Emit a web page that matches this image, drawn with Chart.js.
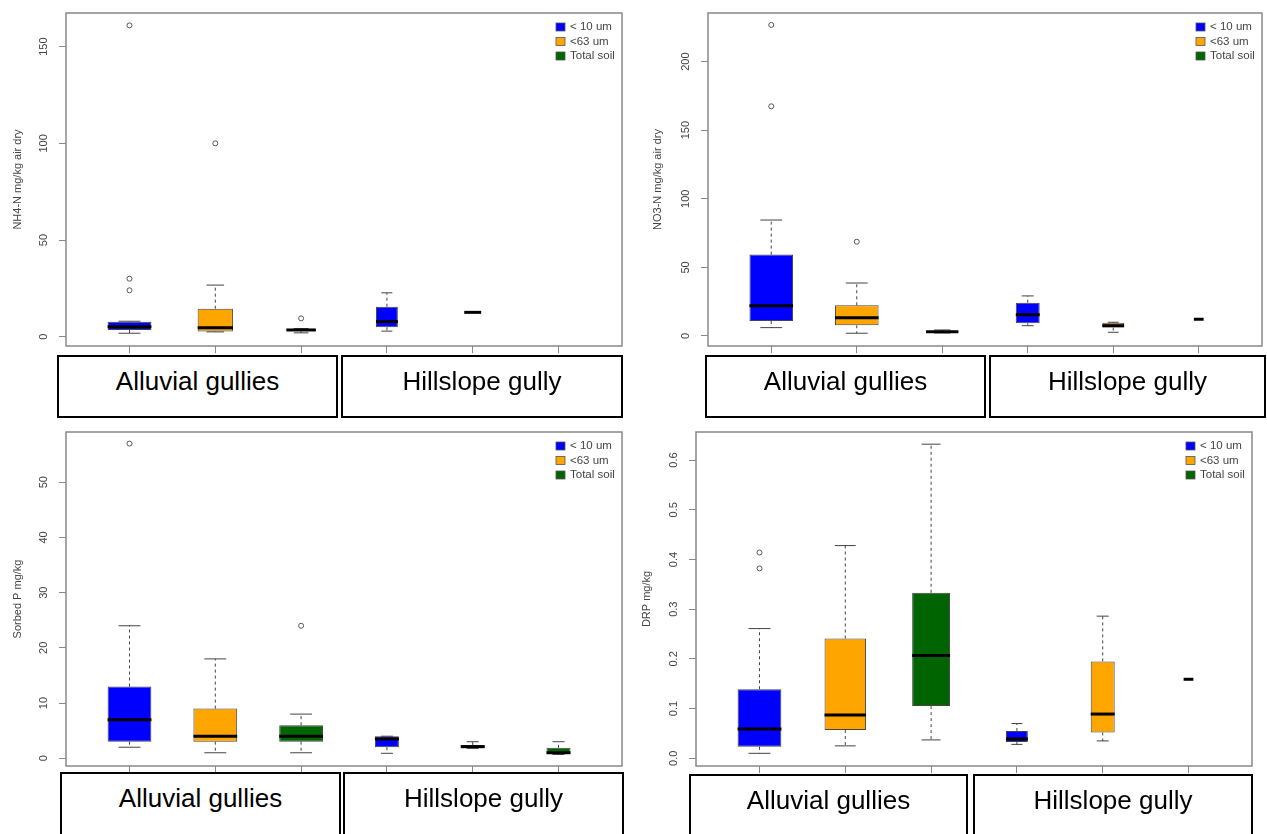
<!DOCTYPE html>
<html>
<head>
<meta charset="utf-8">
<title>Gully soil nutrients by fraction</title>
<script src="https://cdn.jsdelivr.net/npm/chart.js@4.4.0/dist/chart.umd.min.js"></script>
<style>
  body { margin: 0; background: #fff; width: 1267px; height: 834px; overflow: hidden; position: relative;
         font-family: "Liberation Sans", Arial, sans-serif; }
  .panel { position: absolute; }
  .group { position: absolute; box-sizing: border-box; border: 2px solid #000; background: #fff;
           font-size: 26px; line-height: 29px; padding-top: 10px; text-align: center; color: #000; }
</style>
</head>
<body>
<div class="panel" style="left:0;top:0"><canvas id="nh4" width="633" height="356"></canvas></div>
<div class="panel" style="left:640px;top:0"><canvas id="no3" width="627" height="356"></canvas></div>
<div class="panel" style="left:0;top:420px"><canvas id="sorbp" width="633" height="356"></canvas></div>
<div class="panel" style="left:640px;top:420px"><canvas id="drp" width="627" height="356"></canvas></div>

<script>
const groups = ['Alluvial gullies', 'Hillslope gully'];
const fractions = ['< 10 um', '<63 um', 'Total soil'];
const fractionColors = ['#0000ff', '#ffa500', '#006400'];

// boxes in plotting order: alluvial <10, <63, total, hillslope <10, <63, total
// each entry is [lower whisker, Q1, median, Q3, upper whisker]
const nh4Stats = [
  [1.8, 3.5, 5.2, 7.8, 8.0],
  [2.5, 2.7, 4.7, 14.5, 26.7],
  [2.0, 2.8, 3.5, 4.0, 4.2],
  [2.9, 4.9, 7.8, 15.5, 22.7],
  [12.6, 12.6, 12.6, 12.6, 12.6],
  null
];
const nh4Outliers = [[161, 30, 24], [100], [9.5], [], [], []];
const nh4Counts = [20, 13, 9, 5, 3, 0];

const no3Stats = [
  [6.1, 10.9, 22.1, 59.3, 84.5],
  [2.0, 7.8, 13.3, 22.4, 38.6],
  [2.2, 2.6, 3.1, 3.6, 4.4],
  [7.5, 9.3, 15.5, 24.3, 29.2],
  [2.7, 6.1, 7.5, 9.6, 10.0],
  [12.2, 12.2, 12.2, 12.2, 12.2]
];
const no3Outliers = [[226.7, 167.4], [68.7], [], [], [], []];
const no3Counts = [20, 20, 11, 6, 5, 1];

const sorbpStats = [
  [2, 3, 7, 13, 24],
  [1, 3, 4, 9, 18],
  [1, 3, 4, 6, 8],
  [0.9, 2, 3.5, 4, 4],
  [1.8, 1.85, 2.1, 2.4, 3],
  [0.7, 0.8, 1.0, 1.9, 3]
];
const sorbpOutliers = [[57], [], [24], [], [], []];
const sorbpCounts = [20, 20, 20, 6, 6, 6];

const drpStats = [
  [0.010, 0.023, 0.059, 0.139, 0.261],
  [0.025, 0.057, 0.087, 0.241, 0.428],
  [0.037, 0.105, 0.207, 0.333, 0.632],
  [0.028, 0.033, 0.039, 0.055, 0.070],
  [0.035, 0.052, 0.089, 0.195, 0.286],
  [0.159, 0.159, 0.159, 0.159, 0.159]
];
const drpOutliers = [[0.414, 0.382], [], [], [], [], []];
const drpCounts = [20, 18, 15, 5, 6, 1];

const panels = [
  { id: 'nh4', title: 'NH4-N mg/kg air dry', stats: nh4Stats, outliers: nh4Outliers, counts: nh4Counts,
    yMin: -4.8, yMax: 167.4, step: 50, pad: { left: 0, top: 13, right: 11, bottom: 0 },
    yWidth: 66, tickPad: 5.8, titlePad: 11.4,
    boxes: [[57, 355, 281, 63], [341, 355, 282, 63]] },
  { id: 'no3', title: 'NO3-N mg/kg air dry', stats: no3Stats, outliers: no3Outliers, counts: no3Counts,
    yMin: -7.3, yMax: 235.4, step: 50, pad: { left: 0, top: 13, right: 3, bottom: 0 },
    yWidth: 68, tickPad: 5.8, titlePad: 11.4,
    boxes: [[705, 355, 281, 63], [989, 355, 277, 63]] },
  { id: 'sorbp', title: 'Sorbed P mg/kg', stats: sorbpStats, outliers: sorbpOutliers, counts: sorbpCounts,
    yMin: -1.4, yMax: 59.1, step: 10, pad: { left: 0, top: 12, right: 11, bottom: 0 },
    yWidth: 66, tickPad: 8.9, titlePad: 11.4,
    boxes: [[60, 772, 281, 66], [343, 772, 281, 66]] },
  { id: 'drp', title: 'DRP mg/kg', stats: drpStats, outliers: drpOutliers, counts: drpCounts,
    yMin: -0.0155, yMax: 0.6565, step: 0.1, pad: { left: 0, top: 12, right: 15, bottom: 0 },
    yWidth: 56, tickPad: 7.3, titlePad: 0.1, decimals: 1,
    boxes: [[689, 774, 279, 66], [973, 774, 280, 66]] }
];

const FONT = '"Liberation Sans", Arial, sans-serif';
const BOX_FRACTION = 0.51;   // widest box, as a share of the spacing between boxes

// whiskers, staples, medians, frame and legend on top of the floating bars
function boxPlugin(p) {
  return {
    id: 'boxDraw',
    afterDatasetsDraw(chart) {
      const { ctx, scales: { x, y } } = chart;
      ctx.save();
      ctx.lineCap = 'butt';
      p.stats.forEach((s, i) => {
        if (!s) return;
        const [lo, q1, med, q3, hi] = s;
        const cx = x.getPixelForValue(i + 1);
        const half = chart.getDatasetMeta(i).data[0].width / 2;
        const line = (x1, y1, x2, y2) => {
          ctx.beginPath(); ctx.moveTo(x1, y1); ctx.lineTo(x2, y2); ctx.stroke();
        };
        ctx.strokeStyle = '#444';
        ctx.lineWidth = 1;
        ctx.setLineDash([3, 3]);
        line(cx, y.getPixelForValue(q3), cx, y.getPixelForValue(hi));
        line(cx, y.getPixelForValue(q1), cx, y.getPixelForValue(lo));
        ctx.setLineDash([]);
        line(cx - half / 2, y.getPixelForValue(hi), cx + half / 2, y.getPixelForValue(hi));
        line(cx - half / 2, y.getPixelForValue(lo), cx + half / 2, y.getPixelForValue(lo));
        ctx.strokeStyle = '#000';
        ctx.lineWidth = 3;
        line(cx - half, y.getPixelForValue(med), cx + half, y.getPixelForValue(med));
      });
      ctx.restore();
    },
    afterDraw(chart) {
      const { ctx, chartArea: a } = chart;
      ctx.save();
      ctx.strokeStyle = '#888';
      ctx.lineWidth = 1.5;
      ctx.strokeRect(a.left, a.top, a.right - a.left, a.bottom - a.top);

      ctx.font = '11.5px ' + FONT;
      ctx.textBaseline = 'middle';
      ctx.textAlign = 'left';
      fractions.forEach((name, k) => {
        const cy = a.top + 14 + k * 14.5;
        ctx.fillStyle = fractionColors[k];
        ctx.fillRect(a.right - 66, cy - 4, 9, 8);
        ctx.strokeStyle = '#555';
        ctx.lineWidth = 0.8;
        ctx.strokeRect(a.right - 66, cy - 4, 9, 8);
        ctx.fillStyle = '#444';
        ctx.fillText(name, a.right - 52, cy);
      });
      ctx.restore();
    }
  };
}

panels.forEach(p => {
  const maxN = Math.max(...p.counts);

  // one floating bar per box (Q1..Q3), width scaled by sqrt of its sample count
  const boxSets = p.stats.map((s, i) => ({
    data: s ? [{ x: i + 1, y: [s[1], s[3]] }] : [],
    backgroundColor: fractionColors[i % 3],
    borderColor: '#444',
    borderWidth: 1,
    borderSkipped: false,
    grouped: false,
    categoryPercentage: 1,
    barPercentage: BOX_FRACTION * Math.sqrt(p.counts[i] / maxN)
  }));

  const outlierData = [];
  p.outliers.forEach((list, i) => list.forEach(v => outlierData.push({ x: i + 1, y: v })));

  new Chart(document.getElementById(p.id), {
    type: 'bar',
    data: {
      datasets: boxSets.concat([{
        type: 'scatter',
        data: outlierData,
        pointStyle: 'circle',
        pointRadius: 2.5,
        borderWidth: 1,
        borderColor: '#555',
        backgroundColor: 'rgba(0,0,0,0)'
      }])
    },
    options: {
      responsive: false,
      animation: false,
      events: [],
      layout: { padding: p.pad },
      plugins: { legend: { display: false }, tooltip: { enabled: false } },
      scales: {
        x: {
          type: 'linear',
          min: 0.26,
          max: 6.74,
          offset: false,
          ticks: { display: false, stepSize: 1, includeBounds: false },
          grid: { drawOnChartArea: false, offset: false, tickLength: 7, color: '#888' },
          border: { display: false },
          afterFit(s) { s.height = 10; s.paddingLeft = s.paddingRight = 0; }
        },
        y: {
          type: 'linear',
          position: 'left',
          min: p.yMin,
          max: p.yMax,
          ticks: {
            stepSize: p.step,
            includeBounds: false,
            minRotation: 90,
            maxRotation: 90,
            crossAlign: 'center',
            padding: p.tickPad,
            color: '#444',
            font: { family: FONT, size: 11 },
            callback: v => p.decimals ? v.toFixed(p.decimals) : v
          },
          grid: { drawOnChartArea: false, tickLength: 7, color: '#888' },
          border: { display: false },
          title: {
            display: true,
            text: p.title,
            color: '#444',
            font: { family: FONT, size: 11 },
            padding: { top: p.titlePad, bottom: 0 }
          },
          afterFit(s) { s.width = p.yWidth; s.paddingTop = s.paddingBottom = 0; }
        }
      }
    },
    plugins: [boxPlugin(p)]
  });

  // group label boxes under the axis
  p.boxes.forEach((b, g) => {
    const div = document.createElement('div');
    div.className = 'group';
    div.style.left = b[0] + 'px';
    div.style.top = b[1] + 'px';
    div.style.width = b[2] + 'px';
    div.style.height = b[3] + 'px';
    div.textContent = groups[g];
    document.body.appendChild(div);
  });
});
</script>
</body>
</html>
